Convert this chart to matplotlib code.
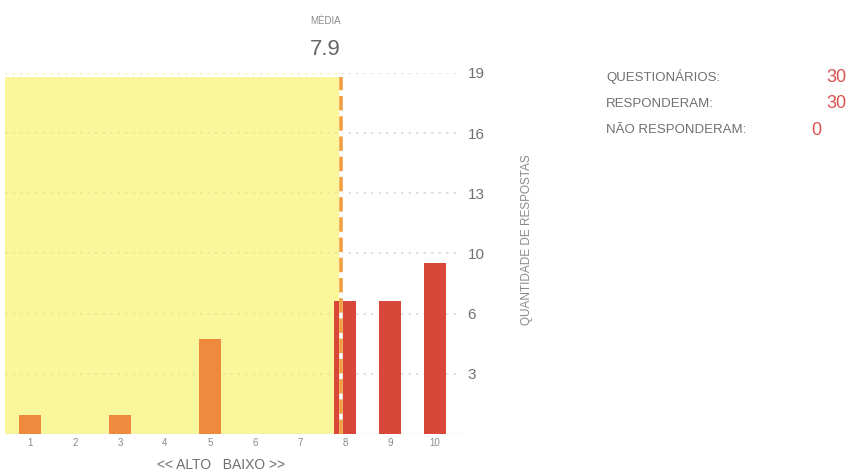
import matplotlib
matplotlib.use('Agg')
import matplotlib.pyplot as plt
import numpy as np

# ── Dados ─────────────────────────────────────────────────────────
notas = [1, 2, 3, 4, 5, 6, 7, 8, 9, 10]
respostas = [1, 0, 1, 0, 5, 0, 0, 7, 7, 9]
media = 7.9
y_max = 19
resumo_rotulos = ['QUESTIONÁRIOS:', 'RESPONDERAM:', 'NÃO RESPONDERAM:']
resumo_valores = ['30', '30', '0']

# ── Cores ─────────────────────────────────────────────────────────
AMARELO = '#fbf69c'
LARANJA = '#ee8a3e'
VERMELHO = '#d9473a'
LINHA_MEDIA = '#f0a040'
CINZA = '#8a8a8a'
CINZA_TXT = '#707070'
NUM_VERMELHO = '#d9534f'

plt.rcParams['font.family'] = ['Liberation Sans', 'DejaVu Sans']

fig = plt.figure(figsize=(8.48, 4.76), dpi=100)
ax = fig.add_axes([0.006, 0.088, 0.539, 0.759])

x0, x1 = 0.45, 10.6
ax.set_xlim(x0, x1)
ax.set_ylim(0, y_max)

# fundo amarelo até a média
ax.fill_between([x0, media], 0, y_max - 0.2, color=AMARELO, lw=0, zorder=0)

# linhas de grade pontilhadas
ticks = [y_max * k / 6 for k in range(1, 7)]
for t in ticks:
    ax.plot([x0, media], [t, t], ls=(0, (1.5, 3)), color='#efe690', lw=1.2, zorder=1)
    ax.plot([media, x1 - 0.1], [t, t], ls=(0, (1.5, 3)), color='#dcdcdc', lw=1.2, zorder=1)

cores = [LARANJA if n < media else VERMELHO for n in notas]
ax.bar(notas, respostas, width=0.5, color=cores, zorder=2)

# linha da média: tracejado laranja sobre faixa branca
lim = (y_max - 0.2) / y_max
ax.axvline(media, ymax=lim, color='white', lw=2.6, zorder=3)
ax.axvline(media, ymax=lim, color=LINHA_MEDIA, lw=2.6,
           ls=(0, (4, 1.6)), zorder=4)
ax.axhline(0, color='#dddddd', lw=1, zorder=1)

for s in ax.spines.values():
    s.set_visible(False)

ax.set_xticks(notas)
ax.set_xticklabels([str(n) for n in notas], fontsize=7, color=CINZA)
ax.tick_params(axis='x', length=0, pad=3)
ax.set_xlabel('<< ALTO   BAIXO >>', fontsize=10, color=CINZA_TXT)
ax.xaxis.set_label_coords((5.25 - x0) / (x1 - x0), -0.065)

ax.yaxis.tick_right()
ax.set_yticks(ticks)
ax.set_yticklabels([str(int(round(t))) for t in ticks], fontsize=11, color=CINZA_TXT)
ax.tick_params(axis='y', length=0, pad=4)
for lbl in ax.get_yticklabels():
    lbl.set_verticalalignment('center_baseline')

fig.text(0.622, 0.496, 'QUANTIDADE DE RESPOSTAS', rotation=90, fontsize=8.5,
         color=CINZA, ha='center', va='center')

# média
xm = ax.transData.transform((media, 0))[0] / fig.bbox.width
fig.text(xm, 0.955, 'MÉDIA', fontsize=7, color=CINZA, ha='right', va='center')
fig.text(xm, 0.897, f'{media:.1f}', fontsize=16, color='#666666', ha='right', va='center')

# resumo
for i, (rot, val) in enumerate(zip(resumo_rotulos, resumo_valores)):
    y = 0.838 - i * 0.056
    fig.text(0.715, y, rot, fontsize=9.5, color=CINZA_TXT, ha='left', va='center')
    x_val = 0.974 if val != '0' else 0.957
    fig.text(x_val, y, val, fontsize=13, color=NUM_VERMELHO, ha='left', va='center')

fig.savefig('out.png', dpi=100)
